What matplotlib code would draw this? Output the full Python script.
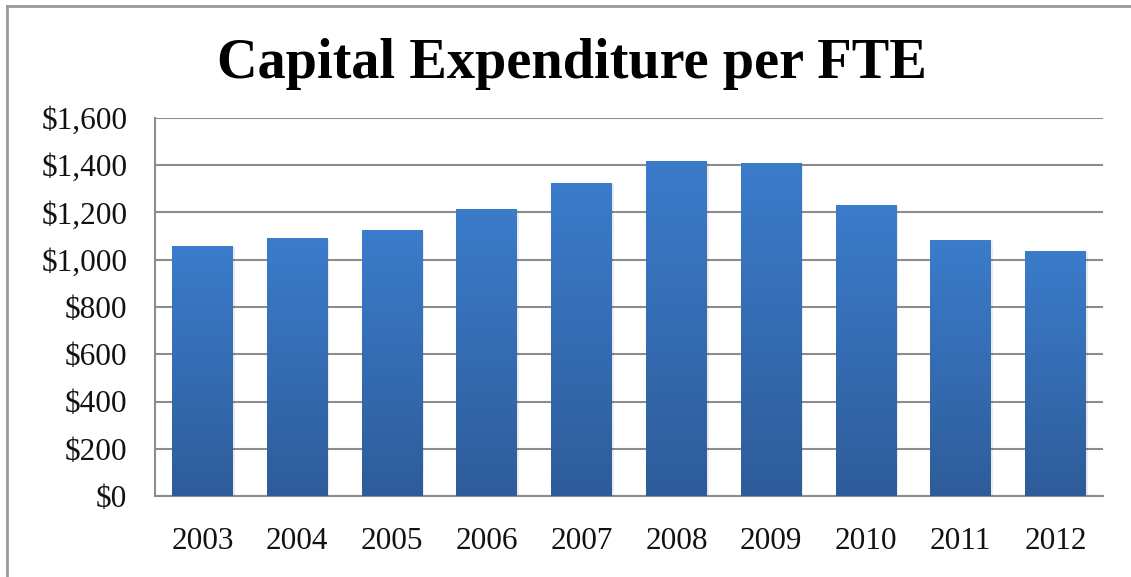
import numpy as np
import matplotlib
matplotlib.use("Agg")
import matplotlib.pyplot as plt
from matplotlib.colors import LinearSegmentedColormap
from matplotlib.patches import Rectangle
from matplotlib.ticker import FuncFormatter

# === data ===
years = ["2003", "2004", "2005", "2006", "2007", "2008", "2009", "2010", "2011", "2012"]
capex_per_fte = [1059, 1090, 1126, 1215, 1323, 1419, 1410, 1230, 1083, 1038]

plt.rcParams["font.family"] = ["Liberation Serif", "DejaVu Serif"]

fig = plt.figure(figsize=(11.31, 5.77), dpi=100)
ax = fig.add_axes([155 / 1131, 1 - 496 / 577, (1103 - 155) / 1131, (496 - 118) / 577])

x = np.arange(len(years))
bars = ax.bar(x, capex_per_fte, width=0.64, color="none", zorder=3)

# vertical gradient fill for each bar
cmap = LinearSegmentedColormap.from_list("bar_grad", ["#2E5C9A", "#3B7CCB"])
grad = np.linspace(0, 1, 256).reshape(-1, 1)
for b in bars:
    x0, w, h = b.get_x(), b.get_width(), b.get_height()
    # soft shadow
    ax.add_patch(Rectangle((x0 + 0.02, 0), w, h - 4, facecolor="#000000",
                           alpha=0.08, zorder=2, linewidth=0))
    im = ax.imshow(grad, cmap=cmap, origin="lower", aspect="auto",
                   extent=[x0, x0 + w, 0, h], zorder=3)
    im.set_clip_path(b)

ax.set_xlim(-0.5, len(years) - 0.5)
ax.set_ylim(0, 1600)
ax.set_yticks(np.arange(0, 1601, 200))
ax.yaxis.set_major_formatter(FuncFormatter(lambda v, p: f"${v:,.0f}"))
ax.set_xticks(x)
ax.set_xticklabels(years)

ax.grid(axis="y", color="#8c8c8c", linewidth=1.5, zorder=0)
ax.set_axisbelow(True)
for side in ["top", "right"]:
    ax.spines[side].set_visible(False)
for side in ["left", "bottom"]:
    ax.spines[side].set_color("#8c8c8c")
    ax.spines[side].set_linewidth(1.5)
ax.tick_params(axis="both", length=0, labelsize=22.5, labelcolor="#111111")
ax.tick_params(axis="x", pad=22)
ax.tick_params(axis="y", pad=20)

fig.text(572 / 1131, 1 - 78 / 577, "Capital Expenditure per FTE",
         ha="center", va="baseline", fontsize=40.5, fontweight="bold")

# frame around the chart (left and top visible)
fig.add_artist(plt.Line2D([7 / 1131, 7 / 1131], [0, 1 - 6 / 577],
                          transform=fig.transFigure, color="#9a9a9a", linewidth=2))
fig.add_artist(plt.Line2D([7 / 1131, 1], [1 - 6 / 577, 1 - 6 / 577],
                          transform=fig.transFigure, color="#9a9a9a", linewidth=2))

plt.savefig("out.png", dpi=100)
plt.close()
